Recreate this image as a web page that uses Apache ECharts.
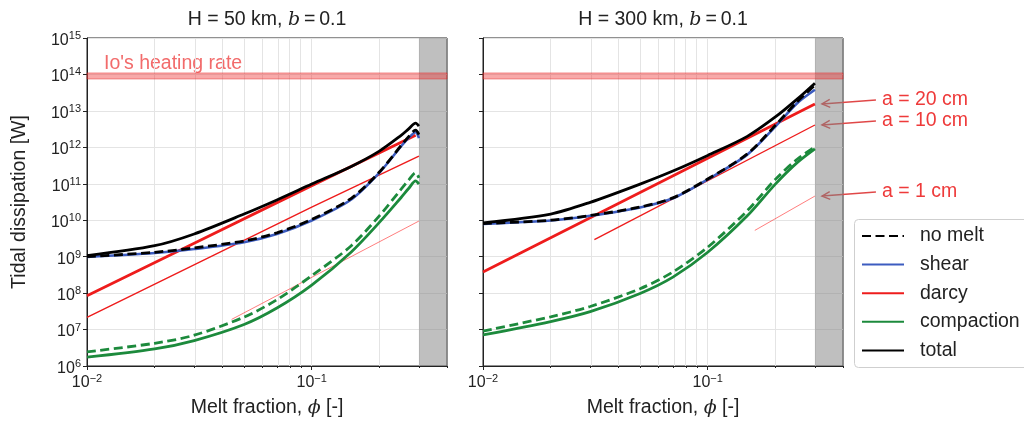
<!DOCTYPE html>
<html>
<head>
<meta charset="utf-8">
<script src="https://cdn.jsdelivr.net/npm/echarts@6/dist/echarts.min.js"></script>
<style>
  html, body { margin: 0; padding: 0; background: #fff; }
  #chart { width: 1024px; height: 423px; }
</style>
</head>
<body>
<div id="chart"></div>
<script>
// ---- melt fraction axis ----
const phiMin = 0.01;
const phiMax = 0.4;
const phiCritical = 0.3;          // shaded region starts here
const xGridPhi = [0.02, 0.03, 0.04, 0.05, 0.06, 0.07, 0.08, 0.09, 0.1, 0.2, 0.3];
const xMinorPhi = [0.02, 0.03, 0.04, 0.05, 0.06, 0.07, 0.08, 0.09, 0.2, 0.3, 0.4];
const yExpMin = 6;
const yExpMax = 15;
const ioHeating = [7.5e13, 1.1e14]; // W

// ---- H = 50 km ----
const phiL = [0.01, 0.02, 0.03, 0.05, 0.07, 0.1, 0.15, 0.2, 0.25, 0.27, 0.29, 0.3];
const totalL = [1.07e9, 2.0e9, 4.2e9, 1.48e10, 3.6e10, 9.8e10, 3.0e11, 7.9e11, 2.14e12, 3.2e12, 4.6e12, 3.8e12];
const shearL = [9.8e8, 1.26e9, 1.62e9, 2.5e9, 4.2e9, 9.8e9, 3.7e10, 2.0e11, 1.07e12, 1.82e12, 2.6e12, 1.78e12];
const noMeltL = [1.0e9, 1.32e9, 1.74e9, 2.7e9, 4.5e9, 1.05e10, 4.0e10, 2.1e11, 1.12e12, 1.95e12, 2.95e12, 2.24e12];
const compactionL = [1.74e6, 2.95e6, 5.0e6, 1.38e7, 3.9e7, 1.66e8, 1.35e9, 8.7e9, 4.2e10, 7.4e10, 1.2e11, 9.8e10];
const compactionNoMeltL = [2.45e6, 4.2e6, 7.0e6, 2.2e7, 6.6e7, 3.0e8, 2.0e9, 1.32e10, 7.1e10, 1.26e11, 2.0e11, 1.45e11];
const darcy20PhiL = [0.01, 0.03, 0.1, 0.29];
const darcy20L = [8.5e7, 2.34e9, 8.9e10, 2.14e12];
const darcy10PhiL = [0.01, 0.1, 0.3];
const darcy10L = [2.16e7, 2.3e10, 5.75e11];
const darcy1PhiL = [0.044, 0.3];
const darcy1L = [1.9e7, 9.5e9];

// ---- H = 300 km ----
const phiR = [0.01, 0.02, 0.03, 0.05, 0.07, 0.1, 0.15, 0.2, 0.25, 0.3];
const totalR = [8.5e9, 1.48e10, 3.1e10, 9.8e10, 2.24e11, 6.0e11, 2.0e12, 6.8e12, 2.1e13, 5.75e13];
const shearR = [7.9e9, 9.8e9, 1.32e10, 2.24e10, 4.0e10, 1.32e11, 6.3e11, 3.7e12, 1.62e13, 3.8e13];
const noMeltR = [8.1e9, 1.0e10, 1.35e10, 2.3e10, 4.1e10, 1.35e11, 6.6e11, 4.0e12, 1.78e13, 5.1e13];
const compactionR = [7.1e6, 1.66e7, 3.1e7, 9.8e7, 2.75e8, 1.32e9, 1.32e10, 9.8e10, 3.8e11, 9.1e11];
const compactionNoMeltR = [9.1e6, 2.24e7, 4.3e7, 1.32e8, 3.8e8, 1.82e9, 1.82e10, 1.32e11, 4.7e11, 1.02e12];
const darcy20PhiR = [0.01, 0.03, 0.1, 0.3];
const darcy20R = [3.8e8, 1.17e10, 5.0e11, 1.55e13];
const darcy10PhiR = [0.0313, 0.3];
const darcy10R = [2.95e9, 4.1e12];
const darcy1PhiR = [0.162, 0.3];
const darcy1R = [5.25e9, 4.6e10];

const panelTitles = ['H = 50 km, ', 'H = 300 km, '];
const grainLabels = ['a = 20 cm', 'a = 10 cm', 'a = 1 cm'];
const legendNames = ['no melt', 'shear', 'darcy', 'compaction', 'total'];

// ---- styling ----
const FONT = "'Liberation Sans', Arial, Helvetica, sans-serif";
const MATH = "'DejaVu Serif', 'Liberation Serif', serif";
const INK = '#222';
const RED = '#ee1c1c';
const BLUE = '#3c5cc0';
const GREEN = '#1c8a3c';
const GRIDLINE = '#e4e4e4';
const DASH = [9, 4.5];

const L10 = Math.log10;
const pts = (phi, w) => phi.map((p, i) => [L10(p), L10(w[i])]);
const isInt = v => Math.abs(v - Math.round(v)) < 1e-6;

const tickRich = {
  b: { fontFamily: FONT, fontSize: 16, color: INK, lineHeight: 20 },
  s: { fontFamily: FONT, fontSize: 11, color: INK, lineHeight: 11, verticalAlign: 'top' }
};
const xFmt = v => {
  if (!isInt(v)) return '';
  const e = Math.round(v);
  return '{b|10}{s|' + (e < 0 ? '\u2212' + Math.abs(e) : e) + '}';
};
const yFmt = v => '{b|10}{s|' + Math.round(v) + '}';

const gridBoxes = [
  { left: 87, top: 38, width: 360, height: 330 },
  { left: 483, top: 38, width: 360, height: 330 }
];

const grid = gridBoxes.map(g => Object.assign({
  show: true, borderColor: INK, borderWidth: 1, backgroundColor: 'transparent'
}, g));

const xAxis = [];
const yAxis = [];
gridBoxes.forEach((g, gi) => {
  xAxis.push({
    type: 'value', gridIndex: gi, min: -2, max: L10(phiMax), interval: 1,
    position: 'bottom',
    axisLine: { show: true, lineStyle: { color: INK, width: 1 } },
    axisTick: { show: true, inside: false, length: 4, lineStyle: { color: INK, width: 1 } },
    splitLine: { show: false },
    axisLabel: { formatter: xFmt, rich: tickRich, margin: 7, showMaxLabel: false },
    name: '{n|Melt fraction, }{i|\u03d5}{n| [-]}',
    nameLocation: 'middle', nameGap: 32,
    nameTextStyle: {
      rich: {
        n: { fontFamily: FONT, fontSize: 19.5, color: INK },
        i: { fontFamily: MATH, fontSize: 19, fontStyle: 'italic', color: INK }
      }
    }
  });
  xAxis.push({
    type: 'value', gridIndex: gi, min: -2, max: L10(phiMax),
    position: 'bottom',
    axisLine: { show: false },
    axisLabel: { show: false },
    axisTick: { show: true, length: 2, customValues: xMinorPhi.map(L10), lineStyle: { color: INK, width: 1 } },
    splitLine: { show: false }
  });
  yAxis.push({
    type: 'value', gridIndex: gi, min: yExpMin, max: yExpMax, interval: 1,
    axisLine: { show: true, lineStyle: { color: INK, width: 1 } },
    axisTick: { show: true, inside: false, length: 4, lineStyle: { color: INK, width: 1 } },
    splitLine: { show: true, lineStyle: { color: GRIDLINE, width: 1 } },
    axisLabel: gi === 0
      ? { formatter: yFmt, rich: tickRich, margin: 6, showMinLabel: true, showMaxLabel: true, padding: [5, 0, 0, 0] }
      : { show: false },
    name: gi === 0 ? 'Tidal dissipation [W]' : '',
    nameLocation: 'middle', nameGap: 57,
    nameTextStyle: { fontFamily: FONT, fontSize: 19.5, color: INK }
  });
});

function curve(gi, name, data, color, width, extra) {
  return Object.assign({
    type: 'line', name: name, xAxisIndex: gi * 2, yAxisIndex: gi,
    data: data, symbol: 'none', showSymbol: false, smooth: 0.3,
    lineStyle: { color: color, width: width, type: 'solid', cap: 'butt' },
    itemStyle: { color: color },
    emphasis: { disabled: true }, silent: true, animation: false
  }, extra || {});
}

// vertical grid lines at the decade subdivisions, drawn under everything else
function gridLines(gi) {
  return {
    type: 'line', name: 'grid lines ' + gi, xAxisIndex: gi * 2, yAxisIndex: gi,
    data: [], silent: true, z: 1, animation: false,
    markLine: {
      z: 1, silent: true, symbol: ['none', 'none'], label: { show: false }, animation: false,
      lineStyle: { color: GRIDLINE, width: 1, type: 'solid' },
      emphasis: { disabled: true },
      data: xGridPhi.map(p => ({ xAxis: L10(p) }))
    }
  };
}

// shaded high-melt region and Io's heating band
function shading(gi) {
  return {
    type: 'line', name: 'shading ' + gi, xAxisIndex: gi * 2, yAxisIndex: gi,
    data: [], silent: true, z: 2, animation: false,
    markArea: {
      z: 2, silent: true, label: { show: false }, animation: false,
      emphasis: { disabled: true },
      data: [
        [{ xAxis: L10(phiCritical), yAxis: yExpMin, itemStyle: { color: 'rgba(128,128,128,0.5)' } },
         { xAxis: L10(phiMax), yAxis: yExpMax }],
        [{ xAxis: L10(phiMin), yAxis: L10(ioHeating[0]),
           itemStyle: { color: 'rgba(238,50,50,0.42)', borderColor: 'rgba(230,40,40,0.45)', borderWidth: 1 } },
         { xAxis: L10(phiMax), yAxis: L10(ioHeating[1]) }]
      ]
    }
  };
}

const panels = [
  { phi: phiL, total: totalL, shear: shearL, noMelt: noMeltL, comp: compactionL, compNM: compactionNoMeltL,
    d20: pts(darcy20PhiL, darcy20L), d10: pts(darcy10PhiL, darcy10L), d1: pts(darcy1PhiL, darcy1L) },
  { phi: phiR, total: totalR, shear: shearR, noMelt: noMeltR, comp: compactionR, compNM: compactionNoMeltR,
    d20: pts(darcy20PhiR, darcy20R), d10: pts(darcy10PhiR, darcy10R), d1: pts(darcy1PhiR, darcy1R) }
];

const series = [];
const darcyIndex = [];
panels.forEach((p, gi) => {
  series.push(gridLines(gi));
  series.push(shading(gi));
  darcyIndex[gi] = series.length;
  series.push(curve(gi, 'darcy', p.d20, RED, 2.8, { smooth: false, z: 3 }));
  series.push(curve(gi, 'darcy', p.d10, RED, 1.4, { smooth: false, z: 3 }));
  series.push(curve(gi, 'darcy', p.d1, 'rgba(255,40,40,0.6)', 1, { smooth: false, z: 3 }));
  series.push(curve(gi, 'compaction, no melt', pts(p.phi, p.compNM), GREEN, 2.8,
    { z: 4, lineStyle: { color: GREEN, width: 2.8, type: DASH } }));
  series.push(curve(gi, 'compaction', pts(p.phi, p.comp), GREEN, 2.8, { z: 4 }));
  series.push(curve(gi, 'shear', pts(p.phi, p.shear), BLUE, 2.6, { z: 5 }));
  series.push(curve(gi, 'no melt', pts(p.phi, p.noMelt), '#000', 2.8,
    { z: 6, lineStyle: { color: '#000', width: 2.8, type: DASH } }));
  series.push(curve(gi, 'total', pts(p.phi, p.total), '#000', 2.8, { z: 7 }));
});

const chart = echarts.init(document.getElementById('chart'), null, { renderer: 'canvas' });
chart.setOption({
  animation: false,
  backgroundColor: '#fff',
  textStyle: { fontFamily: FONT },
  grid: grid,
  xAxis: xAxis,
  yAxis: yAxis,
  legend: {
    data: legendNames,
    orient: 'vertical', left: 854, top: 219,
    padding: [7, 10, 8, 7],
    itemWidth: 42, itemHeight: 14, itemGap: 8.6,
    backgroundColor: 'transparent', borderWidth: 0,
    selectedMode: false,
    itemStyle: { opacity: 0, borderWidth: 0 },
    lineStyle: { width: 2 },
    textStyle: { fontFamily: FONT, fontSize: 19.5, color: INK, lineHeight: 20, padding: [0, 0, 0, 11] }
  },
  series: series
});

// ---- legend frame, titles, Io label, grain size arrows ----
const graphics = [{
  type: 'rect', silent: true, z: -1,
  shape: { x: 854.5, y: 219.5, width: 220, height: 148, r: 4 },
  style: { fill: 'rgba(255,255,255,0.85)', stroke: '#cfcfcf', lineWidth: 1 }
}];
gridBoxes.forEach((g, gi) => {
  graphics.push({
    type: 'text', x: g.left + g.width / 2, y: 20, silent: true,
    style: {
      text: '{n|' + panelTitles[gi] + '}{i|b}{n|\u2009=\u20090.1}',
      align: 'center', verticalAlign: 'middle', textAlign: 'center', textVerticalAlign: 'middle',
      rich: {
        n: { fontFamily: FONT, fontSize: 19.5, fill: INK },
        i: { fontFamily: MATH, fontSize: 19, fontStyle: 'italic', fill: INK }
      }
    }
  });
});

const ioPos = chart.convertToPixel({ seriesIndex: darcyIndex[0] }, [L10(phiMin), L10(ioHeating[1])]);
graphics.push({
  type: 'text', x: ioPos[0] + 17, y: ioPos[1] - 9, silent: true,
  style: {
    text: "Io's heating rate", fontFamily: FONT, fontSize: 19.5, fill: '#f26b6b',
    align: 'left', verticalAlign: 'middle', textAlign: 'left', textVerticalAlign: 'middle'
  }
});

const ARROW = '#e04848';
[panels[1].d20, panels[1].d10, panels[1].d1].forEach((d, k) => {
  const end = d[d.length - 1];
  const p = chart.convertToPixel({ seriesIndex: darcyIndex[1] + k }, end);
  const tip = [p[0] + 7, p[1]];
  const tail = [tip[0] + 54, tip[1] - 4];
  const dx = tail[0] - tip[0], dy = tail[1] - tip[1];
  const len = Math.hypot(dx, dy);
  const ux = dx / len, uy = dy / len;
  const head = 9, ang = 26 * Math.PI / 180;
  const rot = a => [tip[0] + head * (ux * Math.cos(a) - uy * Math.sin(a)),
                    tip[1] + head * (ux * Math.sin(a) + uy * Math.cos(a))];
  graphics.push({
    type: 'line', silent: true,
    shape: { x1: tail[0], y1: tail[1], x2: tip[0], y2: tip[1] },
    style: { stroke: ARROW, lineWidth: 1.4 }
  });
  graphics.push({
    type: 'polyline', silent: true,
    shape: { points: [rot(ang), tip, rot(-ang)] },
    style: { stroke: ARROW, lineWidth: 1.4, fill: null }
  });
  graphics.push({
    type: 'text', x: tail[0] + 6, y: tail[1], silent: true,
    style: {
      text: grainLabels[k], fontFamily: FONT, fontSize: 19.5, fill: '#ee3a3a',
      align: 'left', verticalAlign: 'middle', textAlign: 'left', textVerticalAlign: 'middle'
    }
  });
});

chart.setOption({ graphic: graphics });
</script>
</body>
</html>
